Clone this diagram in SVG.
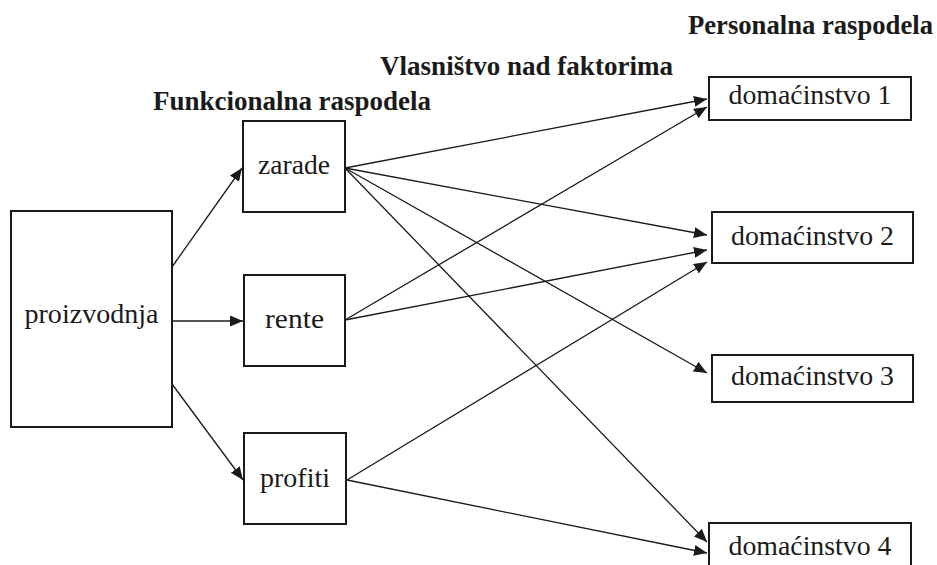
<svg xmlns="http://www.w3.org/2000/svg" width="937" height="565" viewBox="0 0 937 565">
<style>
.box{fill:#fff;stroke:#1a1a1a;stroke-width:2}
.lbl{font-size:28px;fill:#1a1a1a;text-anchor:middle}
.hd{font-size:27px;font-weight:bold;fill:#1a1a1a}
.con line{stroke:#1a1a1a;stroke-width:1.3;fill:none;marker-end:url(#ah)}
</style>
<defs>
<marker id="ah" markerUnits="userSpaceOnUse" markerWidth="14" markerHeight="12" refX="13" refY="5.5" orient="auto">
<path d="M0,0 L13,5.5 L0,11 Z" fill="#1a1a1a"/>
</marker>
</defs>
<rect width="937" height="565" fill="#fff"/>
<g font-family="Liberation Serif, DejaVu Serif, serif">
<text class="hd" x="688" y="34" textLength="245" lengthAdjust="spacingAndGlyphs">Personalna raspodela</text>
<text class="hd" x="380" y="75" textLength="293" lengthAdjust="spacingAndGlyphs">Vlasništvo nad faktorima</text>
<text class="hd" x="153" y="110" textLength="278" lengthAdjust="spacingAndGlyphs">Funkcionalna raspodela</text>
</g>
<g class="con" id="connectors">
<line x1="172" y1="267" x2="242" y2="168"/>
<line x1="172" y1="321" x2="243" y2="321"/>
<line x1="172" y1="384" x2="243" y2="480"/>
<line x1="345" y1="168" x2="707" y2="99"/>
<line x1="345" y1="168" x2="707" y2="235"/>
<line x1="345" y1="168" x2="707" y2="373"/>
<line x1="345" y1="168" x2="707" y2="542"/>
<line x1="345" y1="320" x2="707" y2="107"/>
<line x1="345" y1="320" x2="707" y2="250"/>
<line x1="347" y1="480" x2="707" y2="262"/>
<line x1="347" y1="480" x2="707" y2="553"/>
</g>
<g font-family="Liberation Serif, DejaVu Serif, serif">
<g id="proizvodnja"><rect class="box" x="11" y="211" width="161" height="216"/><text class="lbl" x="91.5" y="323" textLength="134" lengthAdjust="spacingAndGlyphs">proizvodnja</text></g>
<g id="zarade"><rect class="box" x="243" y="121" width="102" height="91"/><text class="lbl" x="294" y="174" textLength="72" lengthAdjust="spacingAndGlyphs">zarade</text></g>
<g id="rente"><rect class="box" x="244" y="275" width="101" height="91"/><text class="lbl" x="294.5" y="328" textLength="59" lengthAdjust="spacingAndGlyphs">rente</text></g>
<g id="profiti"><rect class="box" x="244" y="433" width="102" height="91"/><text class="lbl" x="295" y="487" textLength="70" lengthAdjust="spacingAndGlyphs">profiti</text></g>
<g id="d1"><rect class="box" x="709" y="77" width="202" height="43"/><text class="lbl" x="810" y="104" textLength="163" lengthAdjust="spacingAndGlyphs">domaćinstvo 1</text></g>
<g id="d2"><rect class="box" x="712" y="212" width="201" height="51"/><text class="lbl" x="812.5" y="245" textLength="163" lengthAdjust="spacingAndGlyphs">domaćinstvo 2</text></g>
<g id="d3"><rect class="box" x="712" y="355" width="201" height="47"/><text class="lbl" x="812.5" y="385" textLength="163" lengthAdjust="spacingAndGlyphs">domaćinstvo 3</text></g>
<g id="d4"><rect class="box" x="709" y="523" width="202" height="50"/><text class="lbl" x="810" y="555" textLength="163" lengthAdjust="spacingAndGlyphs">domaćinstvo 4</text></g>
</g>
</svg>
